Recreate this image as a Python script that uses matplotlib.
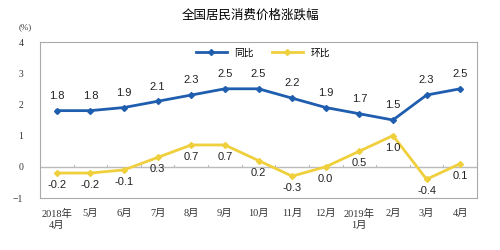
import matplotlib
matplotlib.use('Agg')
import matplotlib.pyplot as plt
import numpy as np

plt.rcParams['font.family'] = ['Liberation Serif', 'Noto Sans CJK SC']

# data
months = ['2018年\n4月', '5月', '6月', '7月', '8月', '9月', '10月', '11月', '12月',
          '2019年\n1月', '2月', '3月', '4月']
yoy = [1.8, 1.8, 1.9, 2.1, 2.3, 2.5, 2.5, 2.2, 1.9, 1.7, 1.5, 2.3, 2.5]
mom = [-0.2, -0.2, -0.1, 0.3, 0.7, 0.7, 0.2, -0.3, 0.0, 0.5, 1.0, -0.4, 0.1]

blue = '#1F5DAE'
yellow = '#EFCF3C'
sans = ['Liberation Sans', 'Noto Sans CJK SC']

fig = plt.figure(figsize=(5, 2.5), dpi=100)
ax = fig.add_axes([0.08, 0.208, 0.874, 0.624])
x = np.arange(len(months))

ax.axhline(0, color='#BBBBBB', lw=1, zorder=1)
ax.plot(x, yoy, color=blue, lw=2, marker='D', ms=3, label='同比', zorder=3)
ax.plot(x, mom, color=yellow, lw=2, marker='D', ms=3, label='环比', zorder=3)

for xi, v in zip(x, yoy):
    ax.annotate(f'{v:.1f}', (xi, v), xytext=(0, 7), textcoords='offset points',
                ha='center', va='bottom', fontsize=8, family=sans, color='#222222')
for xi, v in zip(x, mom):
    ax.annotate(f'{v:.1f}', (xi, v), xytext=(0, -5), textcoords='offset points',
                ha='center', va='top', fontsize=8, family=sans, color='#222222')

# small ticks on the zero line between categories
for b in np.arange(0.5, len(months) - 1, 1):
    ax.plot([b, b], [0, 0.06], color='#BBBBBB', lw=0.8, zorder=1)

ax.set_xlim(-0.5, len(months) - 0.5)
ax.set_ylim(-1, 4)
ax.set_yticks([-1, 0, 1, 2, 3, 4])
ax.set_xticks(x)
ax.set_xticklabels(months, fontsize=7.5, linespacing=1.3)
ax.tick_params(axis='both', length=0, colors='#333333')
ax.tick_params(axis='y', pad=12, labelsize=7)
ax.tick_params(axis='x', pad=8, labelsize=7.5)
for s in ax.spines.values():
    s.set_color('#AAAAAA')
    s.set_linewidth(0.8)

ax.legend(loc='upper center', bbox_to_anchor=(0.51, 1.0), ncol=2, frameon=False,
          handlelength=3.2, columnspacing=1.8, borderaxespad=0.2,
          prop={'family': sans, 'size': 7})

fig.text(0.5, 0.94, '全国居民消费价格涨跌幅', ha='center', va='center',
         fontsize=9, family=sans)
fig.text(0.05, 0.89, '(%)', ha='center', va='center', fontsize=6.5, color='#333333')

fig.savefig('out.png', dpi=100)
